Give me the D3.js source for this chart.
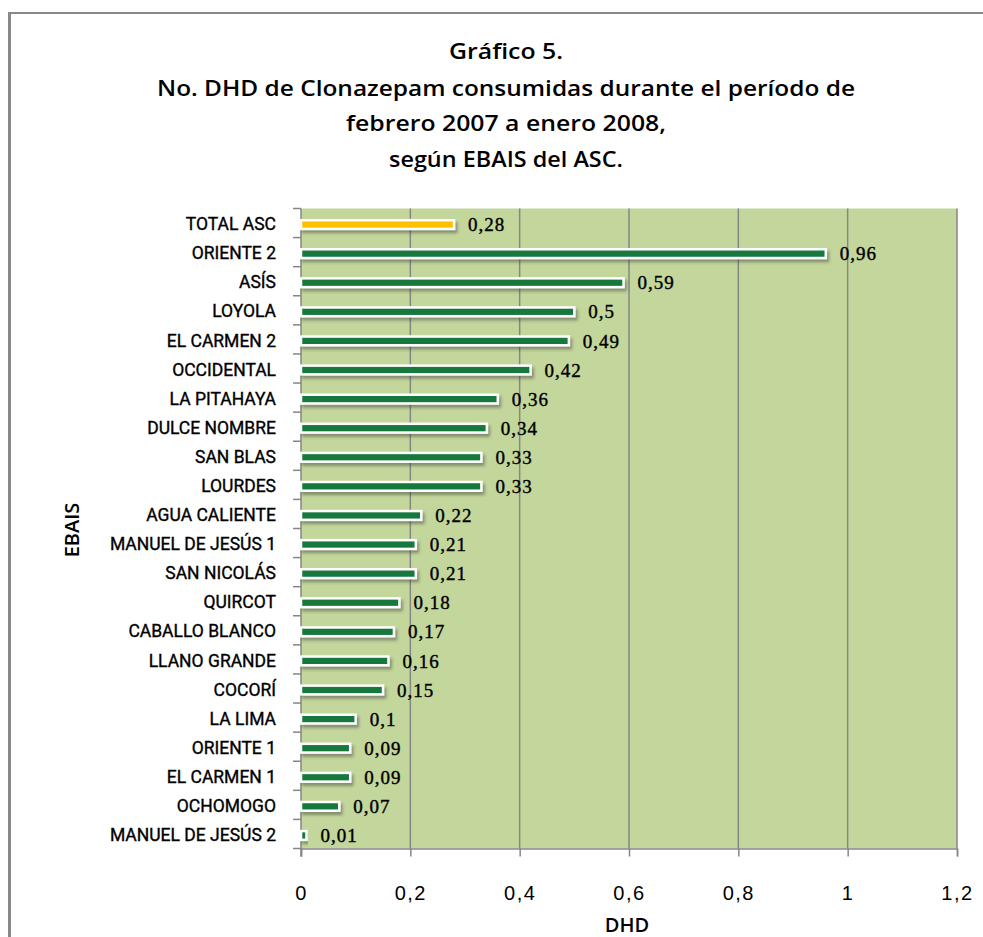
<!DOCTYPE html>
<html>
<head>
<meta charset="utf-8">
<script src="https://cdn.jsdelivr.net/npm/d3@7"></script>
<style>
  body { margin: 0; background: #fff; }
  svg { display: block; }
</style>
</head>
<body>
<div id="chart"></div>
<script>
// EBAIS categories, top to bottom
const categories = [
    "TOTAL ASC", "ORIENTE 2", "ASÍS", "LOYOLA", "EL CARMEN 2", "OCCIDENTAL",
    "LA PITAHAYA", "DULCE NOMBRE", "SAN BLAS", "LOURDES", "AGUA CALIENTE",
    "MANUEL DE JESÚS 1", "SAN NICOLÁS", "QUIRCOT", "CABALLO BLANCO",
    "LLANO GRANDE", "COCORÍ", "LA LIMA", "ORIENTE 1", "EL CARMEN 1",
    "OCHOMOGO", "MANUEL DE JESÚS 2"
];

// DHD values
const values = [
    0.28, 0.96, 0.59, 0.5, 0.49, 0.42, 0.36, 0.34, 0.33, 0.33, 0.22,
    0.21, 0.21, 0.18, 0.17, 0.16, 0.15, 0.1, 0.09, 0.09, 0.07, 0.01
];

const xTicks = [0, 0.2, 0.4, 0.6, 0.8, 1, 1.2];

const titleLines = [
    "Gráfico 5.",
    "No. DHD de Clonazepam consumidas durante el período de",
    "febrero 2007 a enero  2008,",
    "según EBAIS del ASC."
];

const data = categories.map((c, i) => ({ name: c, value: values[i] }));
const fmt = v => String(v).replace(".", ",");

const width = 983, height = 937;
const plot = { left: 301, right: 957, top: 208.5, bottom: 848.5 };

const svg = d3.select("#chart")
    .append("svg")
    .attr("width", width)
    .attr("height", height);

// drop shadow for bars
const defs = svg.append("defs");
const filter = defs.append("filter")
    .attr("id", "shadow")
    .attr("x", "-10%").attr("y", "-50%")
    .attr("width", "130%").attr("height", "250%");
filter.append("feDropShadow")
    .attr("dx", 2).attr("dy", 3)
    .attr("stdDeviation", 1.5)
    .attr("flood-color", "#333")
    .attr("flood-opacity", 0.45);

// outer frame
svg.append("line")
    .attr("x1", 9.5).attr("x2", 9.5).attr("y1", 12).attr("y2", height)
    .attr("stroke", "#888").attr("stroke-width", 3);
svg.append("line")
    .attr("x1", 8).attr("x2", width).attr("y1", 13).attr("y2", 13)
    .attr("stroke", "#888").attr("stroke-width", 2);

// title
const titleY = [59, 96, 131, 167];
const titleW = [114, 698, 320, 234];
svg.append("g")
    .selectAll("text")
    .data(titleLines)
    .join("text")
    .attr("x", 506)
    .attr("y", (d, i) => titleY[i])
    .attr("text-anchor", "middle")
    .attr("textLength", (d, i) => titleW[i])
    .attr("lengthAdjust", "spacingAndGlyphs")
    .style("font-family", "'Open Sans', sans-serif")
    .style("font-weight", "600")
    .style("font-size", "22px")
    .style("fill", "#000")
    .text(d => d);

// scales
const x = d3.scaleLinear()
    .domain([0, 1.2])
    .range([plot.left, plot.right]);

const y = d3.scaleBand()
    .domain(categories)
    .range([plot.top, plot.bottom])
    .padding(0);

// plot background
svg.append("rect")
    .attr("x", plot.left)
    .attr("y", plot.top)
    .attr("width", plot.right - plot.left)
    .attr("height", plot.bottom - plot.top)
    .attr("fill", "#c3d69b");

// vertical gridlines
svg.append("g")
    .selectAll("line")
    .data(xTicks.slice(1))
    .join("line")
    .attr("x1", d => x(d)).attr("x2", d => x(d))
    .attr("y1", plot.top).attr("y2", plot.bottom)
    .attr("stroke", "#868686")
    .attr("stroke-width", 1.5);

// x axis
const xAxis = svg.append("g")
    .attr("transform", `translate(0,${plot.bottom})`)
    .call(d3.axisBottom(x).tickValues(xTicks).tickFormat(fmt).tickSize(8).tickPadding(29));
xAxis.select(".domain").attr("stroke", "#868686").attr("stroke-width", 1.5);
xAxis.selectAll(".tick line").attr("stroke", "#868686").attr("stroke-width", 1.5);
xAxis.selectAll("text")
    .style("font-family", "'Liberation Sans', sans-serif")
    .style("font-size", "20px")
    .style("letter-spacing", "1.5px")
    .style("fill", "#000");

// y axis: line plus ticks on band boundaries
const yBounds = categories.map(c => y(c)).concat([plot.bottom]);
svg.append("line")
    .attr("x1", plot.left).attr("x2", plot.left)
    .attr("y1", plot.top).attr("y2", plot.bottom + 8)
    .attr("stroke", "#868686").attr("stroke-width", 1.5);
svg.append("g")
    .selectAll("line")
    .data(yBounds)
    .join("line")
    .attr("x1", plot.left - 8).attr("x2", plot.left)
    .attr("y1", d => d).attr("y2", d => d)
    .attr("stroke", "#868686").attr("stroke-width", 1.5);

// category labels
svg.append("g")
    .selectAll("text")
    .data(data)
    .join("text")
    .attr("x", 276)
    .attr("y", d => y(d.name) + y.bandwidth() / 2 + 1)
    .attr("dy", "0.35em")
    .attr("text-anchor", "end")
    .style("font-family", "'Roboto', sans-serif")
    .style("font-size", "17.5px")
    .style("fill", "#000")
    .style("stroke", "#000")
    .style("stroke-width", "0.35px")
    .text(d => d.name);

// bars
const barH = y.bandwidth() * 0.3;
svg.append("g")
    .selectAll("rect")
    .data(data)
    .join("rect")
    .attr("x", x(0))
    .attr("y", d => y(d.name) + (y.bandwidth() - barH) / 2 + 1.5)
    .attr("width", d => x(d.value) - x(0))
    .attr("height", barH)
    .attr("fill", (d, i) => i === 0 ? "#ffc000" : "#15783c")
    .attr("stroke", "#fff")
    .attr("stroke-width", 2.5)
    .attr("filter", "url(#shadow)");

// value labels
svg.append("g")
    .selectAll("text")
    .data(data)
    .join("text")
    .attr("x", d => x(d.value) + 14)
    .attr("y", d => y(d.name) + y.bandwidth() / 2 + 1.5)
    .attr("dy", "0.35em")
    .style("font-family", "'Liberation Serif', serif")
    .style("font-size", "19px")
    .style("letter-spacing", "1px")
    .style("fill", "#000")
    .style("stroke", "#000")
    .style("stroke-width", "0.4px")
    .text(d => fmt(d.value));

// axis titles
svg.append("text")
    .attr("x", 627)
    .attr("y", 932)
    .attr("text-anchor", "middle")
    .style("font-family", "'Open Sans', sans-serif")
    .style("font-weight", "600")
    .style("font-size", "20px")
    .text("DHD");

svg.append("text")
    .attr("transform", "translate(79,530) rotate(-90)")
    .attr("text-anchor", "middle")
    .style("font-family", "'Open Sans', sans-serif")
    .style("font-weight", "600")
    .style("font-size", "20px")
    .text("EBAIS");
</script>
</body>
</html>
